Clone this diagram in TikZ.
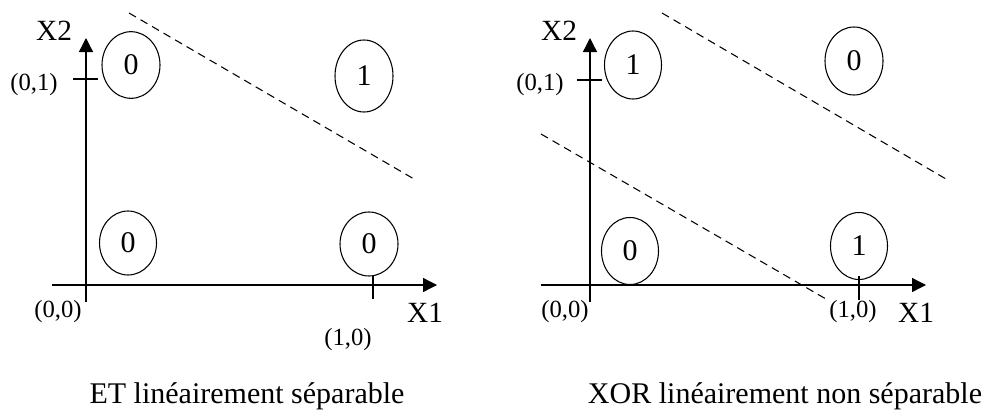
\documentclass[tikz,border=0pt]{standalone}
\usepackage{fontspec}
\setmainfont{Liberation Serif}
\usetikzlibrary{shapes.geometric,arrows.meta}
\begin{document}
\begin{tikzpicture}[x=0.75pt,y=-0.75pt,
  axis/.style={line width=1pt,-{Triangle[length=10.5pt,width=10.5pt]}},
  tickline/.style={line width=1pt},
  sepline/.style={line width=0.8pt,dash pattern=on 6pt off 4pt},
  pnt/.style={ellipse,draw,line width=0.8pt,minimum width=43pt,minimum height=50pt,inner sep=0pt,font=\fontsize{22.5}{26}\selectfont},
  biglab/.style={font=\fontsize{22}{26}\selectfont,inner sep=0pt},
  smalllab/.style={font=\fontsize{18.5}{22}\selectfont,inner sep=0pt},
  caption/.style={font=\fontsize{22.5}{27}\selectfont,inner sep=0pt,anchor=base}]
\useasboundingbox (0,0) rectangle (999,411);

% ---------- left panel ----------
\coordinate (ly0) at (86,302);
\coordinate (ly1) at (86,38);
\coordinate (lx0) at (52,285);
\coordinate (lx1) at (437,285);
\draw[axis] (ly0) -- (ly1);
\draw[axis] (lx0) -- (lx1);
\coordinate (lt1a) at (73,79);
\coordinate (lt1b) at (98,79);
\draw[tickline] (lt1a) -- (lt1b);

\node[pnt,minimum width=43.5pt,minimum height=50pt] (a01) at (131,65) {0};
\node[pnt,minimum width=43.5pt,minimum height=54pt] (a11) at (364,76) {1};
\node[pnt,minimum width=42.75pt,minimum height=48pt] (a00) at (128,243) {0};
\node[pnt,minimum width=43.5pt,minimum height=48pt] (a10) at (369,244) {0};

\coordinate (lt2a) at (373,276);
\coordinate (lt2b) at (373,299);
\draw[tickline] (lt2a) -- (lt2b);

\coordinate (ld0) at (129,13);
\coordinate (ld1) at (414,179);
\draw[sepline] (ld0) -- (ld1);

\node[biglab] (lX2) at (54,31) {X2};
\node[biglab] (lX1) at (425,313) {X1};
\node[smalllab] (l01) at (34,85) {(0,1)};
\node[smalllab] (l00) at (58,312) {(0,0)};
\node[smalllab] (l10) at (348,340) {(1,0)};
\node[caption] (lcap) at (247,403) {ET linéairement séparable};

% ---------- right panel ----------
\coordinate (ry0) at (590,302);
\coordinate (ry1) at (590,38);
\coordinate (rx0) at (541,285);
\coordinate (rx1) at (926,285);
\draw[axis] (ry0) -- (ry1);
\draw[axis] (rx0) -- (rx1);
\coordinate (rt1a) at (577,80);
\coordinate (rt1b) at (602,80);
\draw[tickline] (rt1a) -- (rt1b);

\node[pnt,minimum width=42.75pt,minimum height=51pt] (b01) at (633,65) {1};
\node[pnt,minimum width=43.5pt,minimum height=51pt] (b11) at (854,61) {0};
\node[pnt,minimum width=42.75pt,minimum height=50.25pt] (b00) at (630,251) {0};
\node[pnt,minimum width=42.75pt,minimum height=50.25pt] (b10) at (859,246) {1};

\coordinate (rt2a) at (859,276);
\coordinate (rt2b) at (859,300);
\draw[tickline] (rt2a) -- (rt2b);

\coordinate (rd0) at (662,13);
\coordinate (rd1) at (946,179);
\draw[sepline] (rd0) -- (rd1);
\coordinate (rd2) at (541,134);
\coordinate (rd3) at (826,299);
\draw[sepline] (rd2) -- (rd3);

\node[biglab] (rX2) at (559,31) {X2};
\node[biglab] (rX1) at (916,313) {X1};
\node[smalllab] (r01) at (540,85) {(0,1)};
\node[smalllab] (r00) at (565,312) {(0,0)};
\node[smalllab] (r10) at (853,312) {(1,0)};
\node[caption] (rcap) at (785,403) {XOR linéairement non séparable};
\end{tikzpicture}
\end{document}
